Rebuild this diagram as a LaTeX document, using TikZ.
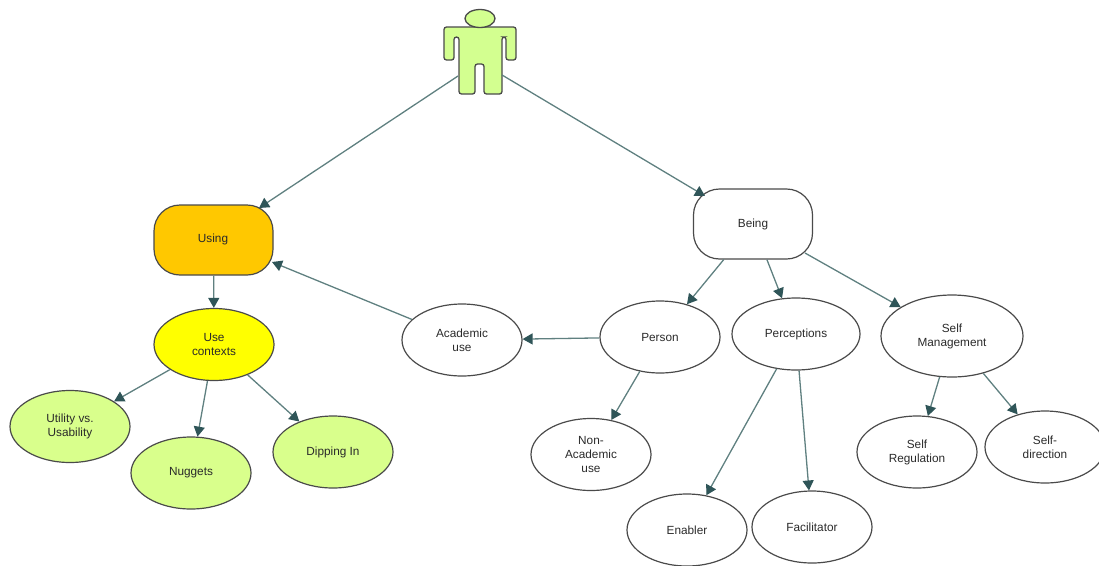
\documentclass[tikz,border=0pt]{standalone}
\usepackage{fontspec}
\setmainfont{Liberation Sans}
\usetikzlibrary{arrows.meta,shapes.geometric}
\definecolor{edge}{HTML}{5F8080}
\definecolor{tip}{HTML}{2F5558}
\definecolor{limefill}{HTML}{D9FF8C}
\definecolor{figfill}{HTML}{D3FF90}
\definecolor{ctxfill}{HTML}{FFFF00}
\definecolor{usefill}{HTML}{FFC800}
\definecolor{outline}{HTML}{4A4A4A}
\definecolor{ink}{HTML}{2A2A2A}
\tikzset{
  x=1pt,y=-1pt,
  lab/.style={font=\fontsize{11.8}{14}\selectfont,align=center,text=ink},
  blob/.style={ellipse,draw=outline,line width=1.2pt,inner sep=0pt,lab},
  rbox/.style={draw=outline,line width=1.2pt,rounded corners=26pt,minimum width=119pt,minimum height=70pt,inner sep=0pt,lab},
  link/.style={draw=edge,line width=1.3pt,-{Triangle[length=10pt,width=11pt,color=tip]}},
  lime/.style={fill=limefill},
  wide/.style={minimum width=120pt,minimum height=72pt},
}
\begin{document}
\begin{tikzpicture}
\useasboundingbox (0,0) rectangle (1099,565);
% figure
\draw[draw=outline,line width=1.3pt,fill=figfill,rounded corners=2.5pt]
  (444,27) -- (516,27) -- (516,60) -- (506,60) -- (506,37) -- (502,37) -- (502,94) -- (484,94)
  -- (484,64) -- (475,64) -- (475,94) -- (459,94) -- (459,37) -- (454,37) -- (454,60) -- (444,60) -- cycle;
\node[ellipse,draw=outline,line width=1.3pt,fill=figfill,minimum width=30pt,minimum height=18pt,inner sep=0pt] (head) at (480,18.5) {};
\coordinate (figL) at (458,76);
\coordinate (figR) at (502,75);
% boxes
\node[rbox,fill=usefill] (using) at (213.5,240) {};
\node[lab] (usinglab) at (213,239) {Using};
\node[rbox,fill=white] (being) at (753,224) {};
\node[lab] (beinglab) at (753,224) {Being};
\coordinate (usingA) at (259,208);
\coordinate (usingB) at (272,262);
\coordinate (beingA) at (705,196);
\coordinate (beingC) at (805,253);
% ellipses
\node[blob,fill=ctxfill,wide] (ctx) at (214,344.5) {Use\\contexts};
\node[blob,wide] (acad) at (462,340) {Academic\\use};
\node[blob,wide] (person) at (660,337) {Person};
\node[blob,minimum width=128pt,minimum height=72pt] (perc) at (796,334) {Perceptions};
\node[blob,minimum width=142pt,minimum height=82pt] (selfm) at (952,336) {Self\\Management};
\node[blob,lime,wide] (util) at (70,426.5) {Utility vs.\\Usability};
\node[blob,lime,wide] (nug) at (191,473) {Nuggets};
\node[blob,lime,wide] (dip) at (333,452) {Dipping In};
\node[blob,wide] (nonac) at (591,454.5) {Non-\\Academic\\use};
\node[blob,wide] (enab) at (687,530) {Enabler};
\node[blob,wide] (facil) at (812,527) {Facilitator};
\node[blob,wide] (selfr) at (917,452) {Self\\Regulation};
\node[blob,wide] (selfd) at (1045,447) {Self-\\direction};
% connectors
\path[link] (figL) -- (usingA);
\path[link] (figR) -- (beingA);
\path[link] (acad) -- (usingB);
\path[link] (using) -- (ctx);
\path[link] (person) -- (acad);
\path[link] (being) -- (person);
\path[link] (being) -- (perc);
\path[link] (beingC) -- (selfm);
\path[link] (ctx) -- (util);
\path[link] (ctx) -- (nug);
\path[link] (ctx) -- (dip);
\path[link] (person) -- (nonac);
\path[link] (perc) -- (enab);
\path[link] (perc) -- (facil);
\path[link] (selfm) -- (selfr);
\path[link] (selfm) -- (selfd);
\end{tikzpicture}
\end{document}
